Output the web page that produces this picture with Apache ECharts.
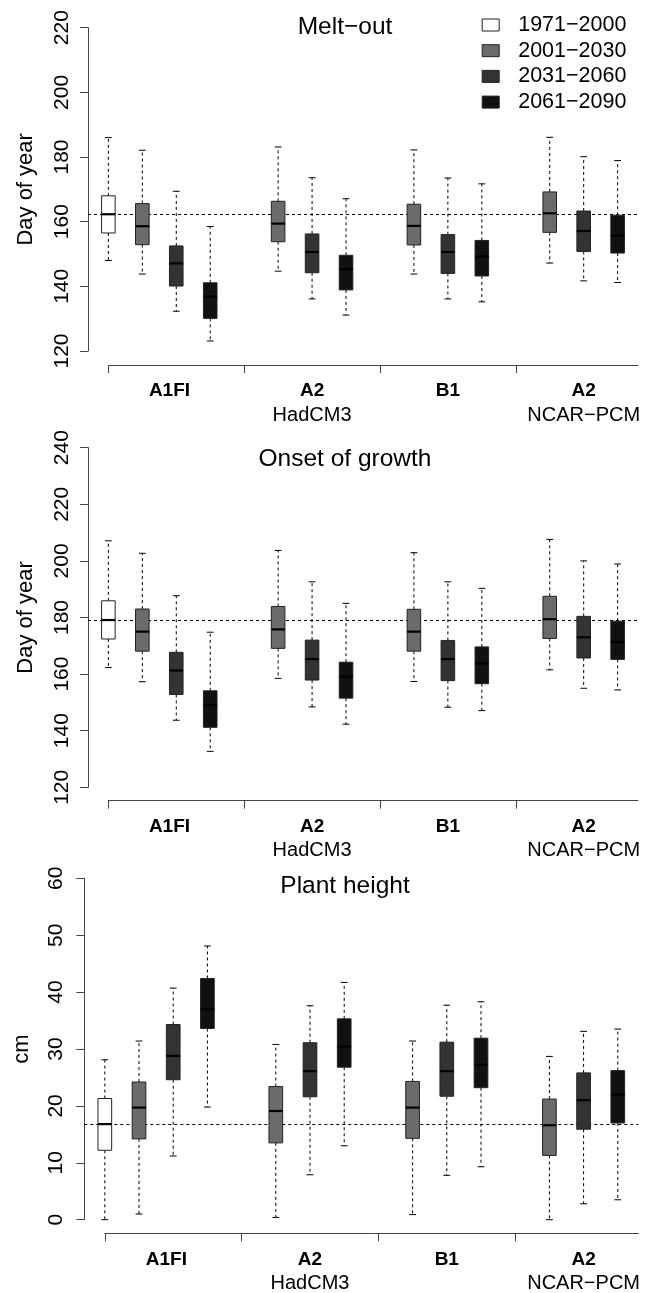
<!DOCTYPE html>
<html><head><meta charset="utf-8">
<script src="https://cdn.jsdelivr.net/npm/echarts@6/dist/echarts.min.js"></script>
<style>html,body{margin:0;padding:0;background:#fff}#c{width:653px;height:1293px}</style>
</head><body><div id="c"></div>
<script>
// ---------------- data ----------------
const periods = ['1971\u22122000', '2001\u22122030', '2031\u22122060', '2061\u22122090'];
const scenarioLabels = ['A1FI', 'A2', 'B1', 'A2'];
const gcmLabels = ['', 'HadCM3', '', 'NCAR\u2212PCM'];
const panelTitles = ['Melt\u2212out', 'Onset of growth', 'Plant height'];
const yAxisNames = ['Day of year', 'Day of year', 'cm'];
const yTickMin = [120, 120, 0];
const yTickMax = [220, 240, 60];
const yTickStep = [20, 20, 10];

// each entry: [lower whisker, Q1, median, Q3, upper whisker] for A1FI, A2 HadCM3, B1, A2 NCAR-PCM
const melt1971 = [[148.0, 156.5, 162.3, 168.0, 186.0], null, null, null];
const melt2001 = [[143.8, 152.9, 158.6, 165.6, 182.1], [144.7, 153.8, 159.4, 166.3, 183.1], [143.8, 152.8, 158.7, 165.4, 182.2], [147.2, 156.7, 162.6, 169.2, 186.1]];
const melt2031 = [[132.3, 140.1, 147.1, 152.5, 169.4], [136.1, 144.2, 150.6, 156.2, 173.6], [136.1, 144.0, 150.6, 156.0, 173.5], [141.7, 150.8, 157.1, 163.3, 180.1]];
const melt2061 = [[123.1, 130.1, 136.8, 141.1, 158.5], [131.1, 138.9, 145.3, 149.6, 167.1], [135.2, 143.2, 149.2, 154.2, 171.7], [141.2, 150.3, 155.7, 162.0, 178.9]];

const onset1971 = [[162.3, 172.4, 179.1, 185.9, 207.1], null, null, null];
const onset2001 = [[157.3, 168.1, 175.0, 183.0, 202.7], [158.5, 169.1, 175.8, 183.9, 203.7], [157.4, 168.1, 175.0, 182.9, 202.9], [161.5, 172.6, 179.4, 187.5, 207.6]];
const onset2031 = [[143.7, 152.8, 161.3, 167.7, 187.7], [148.4, 157.9, 165.3, 172.0, 192.6], [148.3, 157.7, 165.3, 171.9, 192.6], [155.0, 165.7, 173.0, 180.4, 200.0]];
const onset2061 = [[132.7, 141.2, 149.0, 154.1, 174.8], [142.3, 151.5, 159.1, 164.2, 185.0], [147.1, 156.6, 163.7, 169.6, 190.3], [154.4, 165.2, 171.4, 178.7, 198.9]];

const height1971 = [[0.0, 12.2, 16.8, 21.3, 28.1], null, null, null];
const height2001 = [[1.0, 14.2, 19.7, 24.2, 31.4], [0.4, 13.5, 19.1, 23.4, 30.8], [0.9, 14.3, 19.7, 24.3, 31.4], [0.0, 11.3, 16.6, 21.2, 28.7]];
const height2031 = [[11.2, 24.6, 28.8, 34.3, 40.7], [7.9, 21.6, 26.1, 31.1, 37.6], [7.8, 21.7, 26.1, 31.2, 37.7], [2.8, 15.9, 21.0, 25.8, 33.1]];
const height2061 = [[19.8, 33.6, 37.0, 42.4, 48.1], [13.0, 26.8, 30.4, 35.3, 41.7], [9.3, 23.2, 27.2, 31.9, 38.3], [3.5, 17.0, 22.0, 26.2, 33.5]];

const panelData = [
  [melt1971, melt2001, melt2031, melt2061],
  [onset1971, onset2001, onset2031, onset2061],
  [height1971, height2001, height2031, height2061]
];

// ---------------- layout / style ----------------
const FONT = "'Liberation Sans', Arial, Helvetica, sans-serif";
const periodColors = ['#ffffff', '#6b6b6b', '#333333', '#111111'];
const layout = [
  {left: 88, top: 27.7, width: 550, height: 323.3, axisY: 365, titleTop: 15, labelMargin: 15, nameGap: 51},
  {left: 88, top: 447.7, width: 550, height: 339.6, axisY: 800.7, titleTop: 447, labelMargin: 15, nameGap: 51},
  {left: 84.3, top: 878.3, width: 554, height: 341.4, axisY: 1233.3, titleTop: 874, labelMargin: 18, nameGap: 51}
];
const X_MIN = 0.4, X_MAX = 16.6, BOX_W = 0.4;
const tickSlots = [1, 5, 9, 13];
const labelSlots = [2.8, 7, 11, 15];
const AXIS_COLOR = '#444';

function renderBox(params, api) {
  const x = api.value(0);
  const lo = api.coord([x, api.value(1)]);
  const q1 = api.coord([x, api.value(2)]);
  const md = api.coord([x, api.value(3)]);
  const q3 = api.coord([x, api.value(4)]);
  const hi = api.coord([x, api.value(5)]);
  const w = api.size([BOX_W, 0])[0];
  const cx = lo[0];
  const cap = w / 4;
  const fill = api.visual('color');
  const dash = {stroke: '#000', lineWidth: 1, lineDash: [3, 3]};
  const solid = {stroke: '#000', lineWidth: 1};
  return {
    type: 'group',
    children: [
      {type: 'line', shape: {x1: cx, y1: q3[1], x2: cx, y2: hi[1]}, style: dash},
      {type: 'line', shape: {x1: cx, y1: q1[1], x2: cx, y2: lo[1]}, style: dash},
      {type: 'line', shape: {x1: cx - cap, y1: hi[1], x2: cx + cap, y2: hi[1]}, style: solid},
      {type: 'line', shape: {x1: cx - cap, y1: lo[1], x2: cx + cap, y2: lo[1]}, style: solid},
      {type: 'rect', shape: {x: cx - w / 2, y: q3[1], width: w, height: q1[1] - q3[1]}, style: {fill: fill, stroke: '#222', lineWidth: 1}},
      {type: 'line', shape: {x1: cx - w / 2, y1: md[1], x2: cx + w / 2, y2: md[1]}, style: {stroke: '#000', lineWidth: 2.2}}
    ]
  };
}

const grids = [], xAxes = [], yAxes = [], series = [], titles = [];
layout.forEach((L, i) => {
  const pxPerUnit = L.width / (X_MAX - X_MIN);
  grids.push({left: L.left, top: L.top, width: L.width, height: L.height, outerBoundsMode: 'none'});
  const axLeft = L.left + (1 - X_MIN) * pxPerUnit;
  grids.push({left: axLeft, top: L.axisY - 10, width: L.left + L.width - axLeft, height: 10, outerBoundsMode: 'none'});

  xAxes.push({gridIndex: 2 * i, type: 'value', min: X_MIN, max: X_MAX, show: false});
  xAxes.push({
    gridIndex: 2 * i + 1, type: 'value', min: 1, max: X_MAX, position: 'bottom',
    axisLine: {show: true, onZero: false, lineStyle: {color: AXIS_COLOR, width: 1}},
    axisTick: {show: true, length: 8, customValues: tickSlots, lineStyle: {color: AXIS_COLOR, width: 1}},
    axisLabel: {
      show: true, customValues: labelSlots, margin: 14,
      formatter: function (v) {
        let idx = 0, best = 1e9;
        labelSlots.forEach((s, k) => { if (Math.abs(s - v) < best) { best = Math.abs(s - v); idx = k; } });
        let t = '{b|' + scenarioLabels[idx] + '}';
        if (gcmLabels[idx]) t += '\n{r|' + gcmLabels[idx] + '}';
        return t;
      },
      rich: {
        b: {fontFamily: FONT, fontWeight: 'bold', fontSize: 19, lineHeight: 24, color: '#000'},
        r: {fontFamily: FONT, fontSize: 20, lineHeight: 24, color: '#000'}
      }
    },
    splitLine: {show: false}
  });

  yAxes.push({
    gridIndex: 2 * i, type: 'value', min: yTickMin[i], max: yTickMax[i], interval: yTickStep[i],
    axisLine: {show: true, lineStyle: {color: AXIS_COLOR, width: 1}},
    axisTick: {show: true, length: 8, lineStyle: {color: AXIS_COLOR, width: 1}},
    axisLabel: {rotate: 90, fontSize: 21, color: '#000', fontFamily: FONT, margin: L.labelMargin},
    splitLine: {show: false},
    name: yAxisNames[i], nameLocation: 'middle', nameGap: L.nameGap, nameRotate: 90,
    nameTextStyle: {fontSize: 22, color: '#000', fontFamily: FONT}
  });
  yAxes.push({gridIndex: 2 * i + 1, type: 'value', min: 0, max: 1, show: false});

  titles.push({
    text: panelTitles[i], left: 345, top: L.titleTop, textAlign: 'center', padding: 0,
    textStyle: {fontSize: 24.5, fontWeight: 'normal', color: '#000', fontFamily: FONT}
  });

  panelData[i].forEach((arr, p) => {
    const data = [];
    arr.forEach((v, g) => { if (v) data.push([1 + 4 * g + p].concat(v)); });
    const s = {
      type: 'custom', name: periods[p], xAxisIndex: 2 * i, yAxisIndex: 2 * i, z: 3,
      renderItem: renderBox, itemStyle: {color: periodColors[p]},
      encode: {x: 0, y: [1, 2, 3, 4, 5]}, data: data, silent: true, animation: false
    };
    if (p === 0) {
      s.markLine = {
        silent: true, z: 1, symbol: ['none', 'none'], animation: false,
        label: {show: false},
        lineStyle: {type: [3, 3], color: '#000', width: 1},
        data: [{yAxis: arr[0][2]}]
      };
    }
    series.push(s);
  });
});

const chart = echarts.init(document.getElementById('c'), null, {renderer: 'canvas'});
chart.setOption({
  animation: false,
  backgroundColor: '#fff',
  textStyle: {fontFamily: FONT},
  title: titles,
  legend: {
    orient: 'vertical', left: 481.7, top: 14, padding: 0,
    itemWidth: 17, itemHeight: 12, itemGap: 3.7, icon: 'rect', selectedMode: false,
    textStyle: {fontSize: 21.5, color: '#000', fontFamily: FONT, lineHeight: 20, padding: [0, 0, 0, 14]},
    data: periods.map((n, k) => ({name: n, itemStyle: {color: periodColors[k], borderColor: '#222', borderWidth: 1}}))
  },
  grid: grids,
  xAxis: xAxes,
  yAxis: yAxes,
  series: series
});
</script></body></html>
